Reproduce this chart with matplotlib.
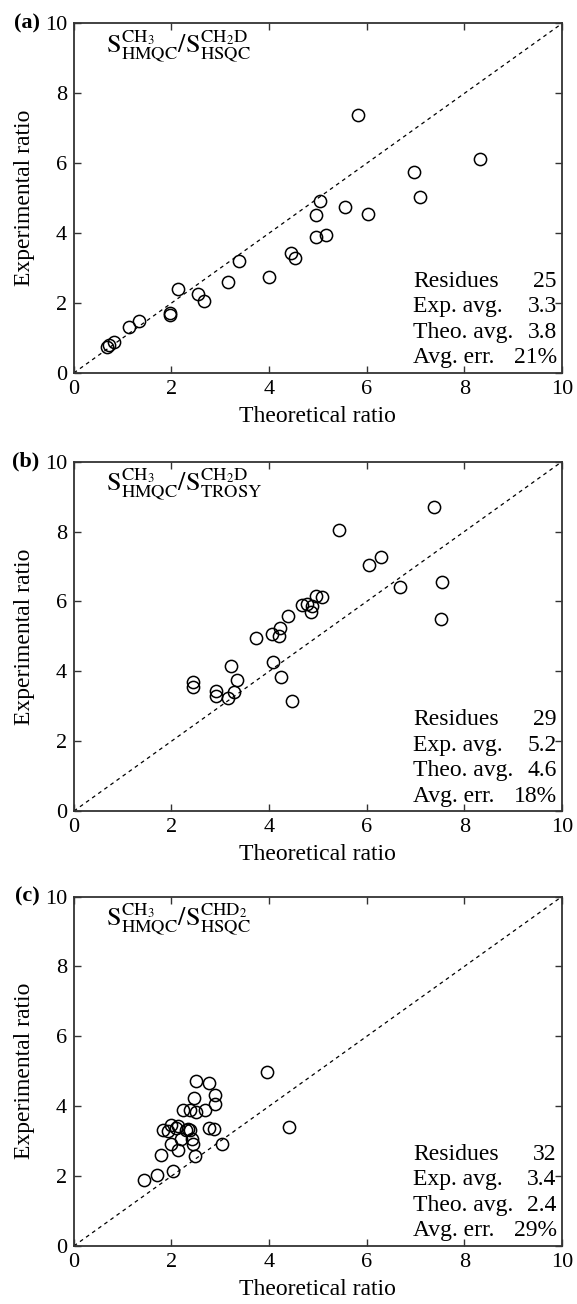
import matplotlib as mpl
import matplotlib.pyplot as plt

mpl.rcParams['font.family'] = ['Liberation Serif', 'DejaVu Serif']
mpl.rcParams['mathtext.fontset'] = 'stix'
mpl.rcParams['font.size'] = 17

# (a) CH3 HMQC / CH2D HSQC
theo_a = [0.67, 0.72, 0.83, 1.13, 1.33, 1.96, 1.97, 2.14, 2.55, 2.66, 3.16, 3.39, 3.99,
          4.44, 4.54, 4.96, 5.16, 4.97, 5.05, 5.55, 5.83, 6.02, 6.97, 7.10, 8.32]
exp_a = [0.74, 0.80, 0.88, 1.32, 1.48, 1.65, 1.71, 2.40, 2.27, 2.06, 2.61, 3.21, 2.75,
         3.43, 3.30, 3.90, 3.96, 4.53, 4.92, 4.75, 7.37, 4.56, 5.76, 5.03, 6.12]

# (b) CH3 HMQC / CH2D TROSY
theo_b = [2.44, 2.44, 2.92, 2.92, 3.16, 3.21, 3.29, 3.34, 3.74, 4.06, 4.08, 4.22, 4.21,
          4.24, 4.47, 4.39, 4.67, 4.77, 4.87, 4.86, 4.96, 5.08, 5.44, 6.04, 6.30, 6.68,
          7.38, 7.55, 7.53]
exp_b = [3.70, 3.56, 3.45, 3.30, 3.23, 4.15, 3.41, 3.75, 4.94, 5.07, 4.26, 5.24, 5.00,
         3.85, 3.16, 5.59, 5.90, 5.92, 5.87, 5.69, 6.15, 6.12, 8.04, 7.03, 7.26, 6.40,
         8.70, 6.55, 5.50]

# (c) CH3 HMQC / CHD2 HSQC
theo_c = [1.44, 1.70, 2.03, 1.79, 2.00, 2.13, 2.19, 2.48, 2.44, 2.42, 3.03, 1.83, 1.93,
          2.00, 2.09, 2.14, 2.29, 2.34, 2.38, 2.24, 2.38, 2.51, 2.69, 2.47, 2.51, 2.77,
          2.90, 2.90, 2.77, 2.87, 3.95, 4.41]
exp_c = [1.90, 2.03, 2.14, 2.61, 2.93, 2.74, 3.06, 2.57, 2.93, 3.06, 2.91, 3.33, 3.29,
         3.45, 3.38, 3.43, 3.31, 3.36, 3.33, 3.89, 3.89, 3.84, 3.90, 4.22, 4.72, 4.65,
         4.31, 4.05, 3.39, 3.36, 4.98, 3.40]

panel_labels = ['(a)', '(b)', '(c)']
titles = [r'$\mathrm{S}_{\mathrm{HMQC}}^{\mathrm{CH}_3}/\mathrm{S}_{\mathrm{HSQC}}^{\mathrm{CH}_2\mathrm{D}}$',
          r'$\mathrm{S}_{\mathrm{HMQC}}^{\mathrm{CH}_3}/\mathrm{S}_{\mathrm{TROSY}}^{\mathrm{CH}_2\mathrm{D}}$',
          r'$\mathrm{S}_{\mathrm{HMQC}}^{\mathrm{CH}_3}/\mathrm{S}_{\mathrm{HSQC}}^{\mathrm{CHD}_2}$']
stat_names = ['Residues', 'Exp. avg.', 'Theo. avg.', 'Avg. err.']
stats = [['25', '3.3', '3.8', '21%'],
         ['29', '5.2', '4.6', '18%'],
         ['32', '3.4', '2.4', '29%']]

def main():
    fig = plt.figure(figsize=(5.77, 13.04), dpi=100)
    bottoms = [0.714, 0.378, 0.0445]
    data = [(theo_a, exp_a), (theo_b, exp_b), (theo_c, exp_c)]
    for i, (xs, ys) in enumerate(data):
        ax = fig.add_axes([0.128, bottoms[i], 0.846, 0.268])
        ax.plot([0, 10], [0, 10], color='black', lw=0.9, ls=(0, (3, 3)))
        ax.plot(xs, ys, 'o', mfc='none', mec='black', ms=8.8, mew=1.1)
        ax.set_xlim(0, 10)
        ax.set_ylim(0, 10)
        ax.set_xticks(range(0, 11, 2))
        ax.set_yticks(range(0, 11, 2))
        ax.tick_params(direction='in', top=True, right=True, length=5,
                       width=1.0, color='#333333', pad=5, labelsize=16)
        for s in ax.spines.values():
            s.set_linewidth(1.3)
            s.set_color('#333333')
        ax.set_xlabel('Theoretical ratio', labelpad=5)
        ax.set_ylabel('Experimental ratio', labelpad=7)
        ax.text(-0.07, 1.0, panel_labels[i], transform=ax.transAxes,
                ha='right', va='center', fontweight='bold', fontsize=16)
        ax.text(0.065, 0.935, titles[i], transform=ax.transAxes,
                ha='left', va='center', fontsize=19)
        for j in range(4):
            yy = 0.262 - 0.073 * j
            ax.text(0.695, yy, stat_names[j], transform=ax.transAxes,
                    ha='left', va='center')
            ax.text(0.989, yy, stats[i][j], transform=ax.transAxes,
                    ha='right', va='center')
    fig.savefig('out.png', dpi=100)

if __name__ == '__main__':
    main()
